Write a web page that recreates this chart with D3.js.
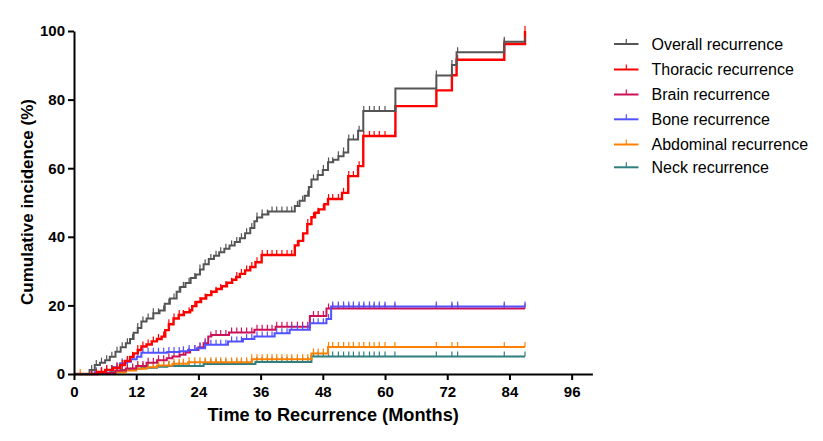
<!DOCTYPE html>
<html>
<head>
<meta charset="utf-8">
<script src="https://cdn.jsdelivr.net/npm/d3@7"></script>
<style>
  html, body { margin: 0; padding: 0; background: #fff; }
  svg { display: block; font-family: "Liberation Sans", Arial, sans-serif; }
</style>
</head>
<body>
<svg id="chart" width="823" height="441"></svg>
<script>
// ---------- data ----------
const seriesNames = ["Overall recurrence", "Thoracic recurrence", "Brain recurrence",
                     "Bone recurrence", "Abdominal recurrence", "Neck recurrence"];
const seriesColors = ["#555555", "#ff0000", "#cc1158", "#5252ff", "#ff8000", "#2f7f7f"];

// step points [time (months), cumulative incidence (%)]
const overallSteps = [[3,1.2],[4,2.6],[5,3.3],[6,4.0],[6.9,5.0],[8,6.5],[9,7.8],[10,9.0],[10.8,10.2],
  [11.5,12.0],[12.3,13.4],[13,15.3],[14,16.2],[15.3,17.7],[16.5,18.5],[17.5,20.5],[18.5,22.0],
  [19.8,24.0],[20.5,25.4],[21.5,26.5],[22.5,28.0],[23.5,29.0],[24.3,30.5],[25,32.0],[26,33.5],
  [27,34.5],[28,35.5],[29,36.5],[30,37.5],[31,38.5],[32,39.6],[33,41.0],[34,42.6],[34.8,44.5],
  [35.3,45.6],[36.3,46.5],[37.5,47.4],[42.6,49.0],[43.5,50.5],[44.5,52.0],[45.3,54.5],[45.8,56.7],
  [47,58.0],[48,59.5],[49,61.7],[50,62.5],[51,63.5],[52,64.6],[52.9,68.4],[54.8,70.9],[55.8,76.7],
  [62,83.2],[69.9,87.0],[72.9,90.1],[73.8,93.8],[83,96.9]];
const thoracicSteps = [[4.5,0.6],[6,1.2],[7.5,1.8],[8.9,2.6],[9.8,3.8],[10.8,5.0],[11.5,6.0],
  [12.3,7.0],[13,8.0],[14,8.6],[15,9.5],[16,10.2],[16.9,10.9],[17.6,12.8],[18.3,14.5],[19.2,16.2],
  [20.2,17.2],[21.2,18.0],[22.4,18.6],[22.8,19.8],[23.6,21.0],[24.5,22.0],[25.5,23.0],[26.5,24.0],
  [27.5,24.8],[28.5,25.6],[29.5,26.6],[30.5,27.5],[31.3,28.3],[32,29.2],[33,30.2],[34,31.2],
  [35,32.6],[36.2,34.7],[42.6,37.5],[43.3,38.8],[44.2,41.0],[45,43.7],[45.8,45.7],[46.5,47.0],
  [47.2,48.0],[48.3,49.5],[49,51.0],[51.7,52.8],[52.9,57.7],[54.8,60.6],[55.8,69.4],[62,78.1],
  [69.9,82.7],[72.9,87.1],[73.8,91.6],[83,96.2],[87,100]];
const brainSteps = [[5,0.3],[8,1.0],[10,1.6],[12,2.3],[14,3.3],[16,4.0],[17.9,4.6],[19,5.1],
  [20.4,5.6],[21.5,6.3],[22.4,7.0],[24,7.8],[25,9.0],[25.9,10.9],[26.5,11.4],[29.9,12.1],
  [34.8,12.9],[38.9,13.8],[45.5,16.9],[48.7,19.1]];
const boneSteps = [[4,0.5],[6,1.2],[7.5,2.0],[8.9,3.1],[10.2,3.6],[11,4.3],[12.1,5.0],[13,6.2],
  [18,6.4],[20.4,6.6],[22,7.0],[23.7,7.5],[25.3,8.5],[29.7,9.5],[32.6,10.2],[34.8,10.9],
  [38.7,11.9],[41.6,12.9],[45.5,14.8],[48.7,16.0],[49.6,19.7]];
const abdominalSteps = [[8,0.5],[10,1.0],[12,1.5],[14,2.0],[16,2.5],[19,3.0],[22,3.4],
  [34.3,4.3],[45.8,6.0],[49,7.9]];
const neckSteps = [[5,0.4],[7,0.8],[9,1.2],[11,1.5],[13,1.8],[16,2.1],[18,2.3],[25,2.9],
  [35,3.5],[45.8,5.1]];
const endTime = 87;

// censoring times (months), shared by all series
const censorTimes = [3.4,4.3,5.3,6.3,7.3,8.3,9.3,10.3,11.3,12.3,13.3,14.3,15.3,16.3,17.3,18.3,
  19.3,20.3,21.1,22.2,23.3,24.3,25.3,26.4,27.4,28.3,29.3,30.4,31.4,32.3,33.3,34.3,35.3,36.3,
  37.3,38.2,39.1,40.1,41.1,42.0,43.1,44.1,45.1,46.2,47.1,48.1,49.1,49.9,51.0,52.0,53.0,53.9,
  55.0,55.9,57.0,57.9,58.9,60.0,61.9,69.9,72.9,74.0,83.0,87.0];
const abdominalExtraCensor = [1.2];

const xTicks = [0, 12, 24, 36, 48, 60, 72, 84, 96];
const yTicks = [0, 20, 40, 60, 80, 100];

// ---------- drawing ----------
const svg = d3.select("#chart");
const x = d3.scaleLinear().domain([0, 100]).range([74, 592.4]);
const y = d3.scaleLinear().domain([0, 100]).range([374, 31]);

const allSteps = [overallSteps, thoracicSteps, brainSteps, boneSteps, abdominalSteps, neckSteps];
const series = seriesNames.map((name, i) => {
  const pts = [[0, 0], ...allSteps[i]];
  pts.push([endTime, pts[pts.length - 1][1]]);
  const extra = i === 4 ? abdominalExtraCensor : [];
  return { name, color: seriesColors[i], pts, censor: extra.concat(censorTimes) };
});
function valueAt(pts, t) {
  let v = 0;
  for (const p of pts) { if (p[0] <= t) v = p[1]; else break; }
  return v;
}

const line = d3.line().x(d => x(d[0])).y(d => y(d[1])).curve(d3.curveStepAfter);

const drawOrder = [5, 4, 2, 3, 1, 0];
const plot = svg.append("g");
drawOrder.forEach(i => {
  const s = series[i];
  const g = plot.append("g");
  g.append("path").datum(s.pts)
    .attr("d", line).attr("fill", "none")
    .attr("stroke", s.color).attr("stroke-width", i === 1 ? 2.4 : 2)
    .attr("stroke-linejoin", "miter");
  g.selectAll("line.c").data(s.censor.filter(t => t <= endTime)).enter().append("line")
    .attr("class", "c")
    .attr("x1", t => x(t)).attr("x2", t => x(t))
    .attr("y1", t => y(valueAt(s.pts, t)))
    .attr("y2", t => y(valueAt(s.pts, t)) - 5)
    .attr("stroke", s.color).attr("stroke-width", 1.2);
});

// axes
const xAxis = svg.append("g").attr("transform", "translate(0,374)")
  .call(d3.axisBottom(x).tickValues(xTicks).tickSize(6).tickSizeOuter(0).tickPadding(6));
const yAxis = svg.append("g").attr("transform", "translate(74,0)")
  .call(d3.axisLeft(y).tickValues(yTicks).tickSize(6).tickSizeOuter(0).tickPadding(3));
[xAxis, yAxis].forEach(a => {
  a.select(".domain").attr("stroke", "#000").attr("stroke-width", 2);
  a.selectAll(".tick line").attr("stroke", "#000").attr("stroke-width", 2);
  a.selectAll(".tick text").attr("fill", "#000")
    .style("font-size", "15px").style("font-weight", "bold")
    .style("font-family", "'Liberation Sans', Arial, sans-serif");
});

svg.append("text").attr("x", x(50)).attr("y", 421).attr("text-anchor", "middle")
  .style("font-size", "18.2px").style("font-weight", "bold").text("Time to Recurrence (Months)");
svg.append("text").attr("transform", "translate(33,202) rotate(-90)").attr("text-anchor", "middle")
  .style("font-size", "17px").style("font-weight", "bold").text("Cumulative incidence (%)");

// legend
const legend = svg.append("g");
const rowY = [44, 69.5, 94.5, 119.3, 144.5, 167.3];
series.forEach((s, i) => {
  const g = legend.append("g").attr("transform", `translate(0,${rowY[i]})`);
  g.append("line").attr("x1", 614).attr("x2", 638.5).attr("y1", 0).attr("y2", 0)
    .attr("stroke", s.color).attr("stroke-width", 2);
  g.append("line").attr("x1", 626.3).attr("x2", 626.3).attr("y1", 0).attr("y2", -5)
    .attr("stroke", s.color).attr("stroke-width", 1.2);
  g.append("text").attr("x", 651.5).attr("y", 5.5).style("font-size", "16px")
    .attr("fill", "#000").text(s.name);
});
</script>
</body>
</html>
